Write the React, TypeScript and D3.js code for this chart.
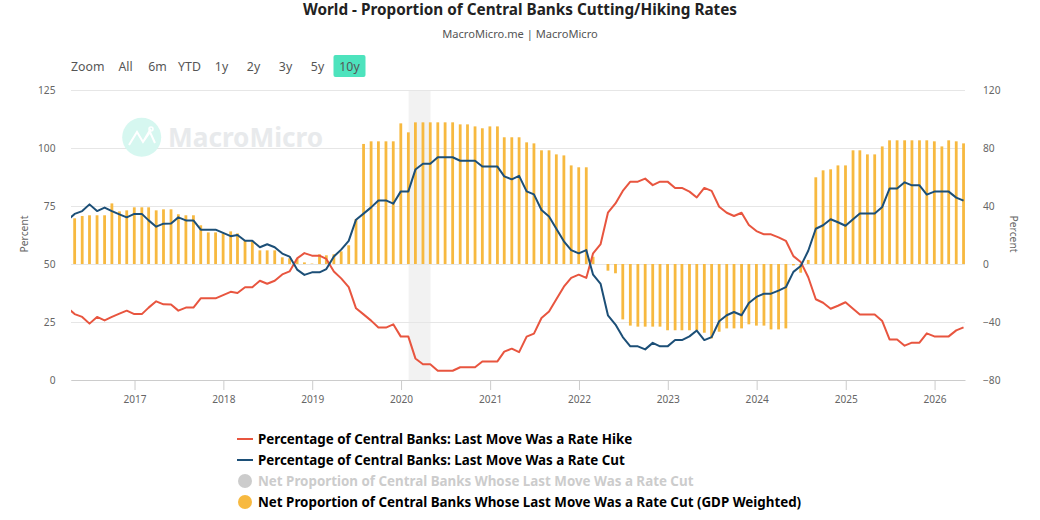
import * as d3 from "d3";
import { useEffect, useRef } from "react";

const FONT = "'Noto Sans', sans-serif";

// month ends, first one sits left of the plot and gets clipped
const firstMonthEnd = [2016, 2];

const hikeValues = [
  31.2, 28.4, 27.2, 24.3, 27.2, 25.7, 27.2, 28.6, 29.9, 28.4, 28.4, 31.2, 33.9, 32.6, 32.5, 29.9, 31.2, 31.2, 35.2, 35.2, 35.2, 36.6, 38, 37.5, 40, 40, 42.8, 41.5, 42.8, 45.5, 46.8, 52.4, 54.7, 53.6, 53.6, 52.2, 46.8, 43.8, 40, 30.9, 28.3, 25.6,
  22.6, 22.6, 24, 18.7, 18.7, 9.3, 6.8, 6.8, 4, 4, 4, 5.5, 5.5, 5.5, 8, 8, 8, 12.2, 13.5, 12, 18.7, 20, 26.7, 29.5, 34.8, 40.2, 44, 45.4, 44, 54.6, 58.6, 72.1, 76.1, 81.5, 85.5, 85.5, 86.8, 84, 85.5, 85.5, 82.8, 82.8,
  81.2, 78.7, 82.8, 81.5, 74.7, 72.1, 70.7, 72.1, 66.8, 64.2, 62.8, 62.8, 61.5, 60, 53.4, 50.9, 44.3, 34.8, 33.3, 30.7, 32, 33.5, 30.7, 28.2, 28.2, 28.2, 25.4, 17.5, 17.5, 14.8, 16.1, 16.1, 20.1, 18.8, 18.8, 18.8, 21.4, 22.7,
];

const cutValues = [
  68.8, 71.6, 72.8, 75.7, 72.8, 74.3, 72.8, 71.4, 70.1, 71.6, 71.6, 68.8, 66.1, 67.4, 67.5, 70.1, 68.8, 68.8, 64.8, 64.8, 64.8, 63.4, 62, 62.5, 60, 60, 57.2, 58.5, 57.2, 54.5, 53.2, 47.6, 45.3, 46.4, 46.4, 47.8, 53.2, 56.2, 60, 69.1, 71.7, 74.4,
  77.4, 77.4, 76, 81.3, 81.3, 90.7, 93.2, 93.2, 96, 96, 96, 94.5, 94.5, 94.5, 92, 92, 92, 87.8, 86.5, 88, 81.3, 80, 73.3, 70.5, 65.2, 59.8, 56, 54.6, 56, 45.4, 41.4, 27.9, 23.9, 18.5, 14.5, 14.5, 13.2, 16, 14.5, 14.5, 17.2, 17.2,
  18.8, 21.3, 17.2, 18.5, 25.3, 27.9, 29.3, 27.9, 33.2, 35.8, 37.2, 37.2, 38.5, 40, 46.6, 49.1, 55.7, 65.2, 66.7, 69.3, 68, 66.5, 69.3, 71.8, 71.8, 71.8, 74.6, 82.5, 82.5, 85.2, 83.9, 83.9, 79.9, 81.2, 81.2, 81.2, 78.6, 77.3,
];

const netValues = [
  30, 31.5, 33.1, 33.6, 33.6, 33.6, 41.8, 36.3, 37, 39.1, 39.1, 39.1, 37, 37.7, 37.7, 34.3, 33.6, 33.6, 26.7, 21.8, 21.8, 21.1, 22.5, 21.1, 16.3, 15.6, 9.4, 9.4, 9.4, 4.6, 3.9, 3.5, 1.1, 0.3, 6.7, 6, 6.7, 8.7, 12.9, 31, 82.8, 84.6,
  84.6, 84.6, 84.6, 97, 90.8, 97.7, 97.7, 97.7, 97.7, 97.7, 97.7, 96.3, 96.3, 94.9, 93.6, 94.9, 94.9, 87.4, 87.4, 87.4, 83.9, 83.2, 78.4, 78.4, 75.6, 74.9, 68, 66.7, 66.7, 5, 0, -4.6, -6.4, -38.2, -42.5, -43.2, -43.2, -43.2, -43.2, -45.7, -45.7, -45.7,
  -45.7, -45.7, -47.4, -51.3, -46.7, -44.4, -44.4, -44.4, -41.6, -42.5, -42.5, -45.1, -45.1, -44.4, -1, -6, 2.8, 59.8, 64.6, 65.3, 68, 68, 78.4, 78.4, 75.6, 75.6, 81.1, 85.3, 85.3, 85.3, 85.3, 85.3, 85.3, 84.6, 81.1, 85.3, 84.6, 83.2,
];

const yearTicks = [2017, 2018, 2019, 2020, 2021, 2022, 2023, 2024, 2025, 2026];
const leftTicks = [0, 25, 50, 75, 100, 125];
const rightTicks = [-80, -40, 0, 40, 80, 120];
const rangeButtons = ["All", "6m", "YTD", "1y", "2y", "3y", "5y", "10y"];
const recession = [new Date(Date.UTC(2020, 1, 1)), new Date(Date.UTC(2020, 4, 1))];

const legendItems = [
  { label: "Percentage of Central Banks: Last Move Was a Rate Hike", color: "#e8553f", kind: "line", hidden: false },
  { label: "Percentage of Central Banks: Last Move Was a Rate Cut", color: "#1c4f77", kind: "line", hidden: false },
  { label: "Net Proportion of Central Banks Whose Last Move Was a Rate Cut", color: "#cccccc", kind: "dot", hidden: true },
  { label: "Net Proportion of Central Banks Whose Last Move Was a Rate Cut (GDP Weighted)", color: "#f7b940", kind: "dot", hidden: false },
];

const margin = { top: 90, right: 75, bottom: 140, left: 71 };
const width = 1040;
const height = 520;

const App = () => {
  const svgRef = useRef<SVGSVGElement>(null);

  useEffect(() => {
    const svg = d3.select(svgRef.current);
    svg.selectAll("*").remove();
    svg.style("font-family", FONT);

    const dates = hikeValues.map((_, i) => new Date(Date.UTC(firstMonthEnd[0], firstMonthEnd[1] + i + 1, 0)));
    const x = d3.scaleUtc()
      .domain([new Date(Date.UTC(2016, 3, 15)), new Date(Date.UTC(2026, 4, 6))])
      .range([margin.left, width - margin.right]);
    const yLeft = d3.scaleLinear().domain([0, 125]).range([height - margin.bottom, margin.top]);
    const yRight = d3.scaleLinear().domain([-80, 120]).range([height - margin.bottom, margin.top]);

    svg.append("clipPath").attr("id", "plot")
      .append("rect")
      .attr("x", margin.left).attr("y", margin.top - 2)
      .attr("width", width - margin.left - margin.right)
      .attr("height", height - margin.top - margin.bottom + 4);

    // titles
    svg.append("text").attr("x", 520).attr("y", 15).attr("text-anchor", "middle")
      .attr("font-size", 15.3).attr("font-weight", 700).attr("fill", "#222")
      .text("World - Proportion of Central Banks Cutting/Hiking Rates");
    svg.append("text").attr("x", 520).attr("y", 38).attr("text-anchor", "middle")
      .attr("font-size", 11.1).attr("fill", "#555")
      .text("MacroMicro.me | MacroMicro");

    // range selector
    svg.append("text").attr("x", 71).attr("y", 71).attr("font-size", 12.3).attr("fill", "#555").text("Zoom");
    const btn = svg.append("g").selectAll("g").data(rangeButtons).join("g")
      .attr("transform", (_, i) => `translate(${125.5 + i * 32},0)`);
    btn.filter((d) => d === "10y").append("rect")
      .attr("x", -16).attr("y", 55).attr("width", 32).attr("height", 22).attr("rx", 2)
      .attr("fill", "#4de3bd");
    btn.append("text").attr("y", 71).attr("text-anchor", "middle")
      .attr("font-size", 12.3).attr("fill", "#555").text((d) => d);

    // recession band
    svg.append("rect")
      .attr("x", x(recession[0])).attr("y", margin.top)
      .attr("width", x(recession[1]) - x(recession[0]))
      .attr("height", height - margin.top - margin.bottom)
      .attr("fill", "#f2f2f2");

    // gridlines + left axis
    const leftAxis = svg.append("g")
      .attr("transform", `translate(${margin.left},0)`)
      .call(d3.axisLeft(yLeft).tickValues(leftTicks).tickSize(-(width - margin.left - margin.right)).tickPadding(15.5));
    leftAxis.select(".domain").remove();
    leftAxis.selectAll("line").attr("stroke", "#e6e6e6");
    leftAxis.selectAll("text").attr("font-size", 10.2).attr("font-family", FONT).attr("fill", "#666");

    const rightAxis = svg.append("g")
      .attr("transform", `translate(${width - margin.right},0)`)
      .call(d3.axisRight(yRight).tickValues(rightTicks).tickSize(0).tickPadding(18));
    rightAxis.select(".domain").remove();
    rightAxis.selectAll("text").attr("font-size", 10.2).attr("font-family", FONT).attr("fill", "#666");

    svg.append("text").attr("transform", "translate(27.5,234) rotate(-90)").attr("text-anchor", "middle")
      .attr("font-size", 10.3).attr("fill", "#666").text("Percent");
    svg.append("text").attr("transform", "translate(1010,234) rotate(90)").attr("text-anchor", "middle")
      .attr("font-size", 10.3).attr("fill", "#666").text("Percent");

    // watermark
    const mark = svg.append("g");
    mark.append("circle").attr("cx", 141.7).attr("cy", 137.3).attr("r", 19.5).attr("fill", "#d6f7f0");
    mark.append("path").attr("d", "M129,145 L137,132 L143,142 L150,132 L155,143 M143,142 L150,130 L151,129")
      .attr("fill", "none").attr("stroke", "#fff").attr("stroke-width", 2);
    mark.append("circle").attr("cx", 151).attr("cy", 129).attr("r", 2).attr("fill", "none").attr("stroke", "#fff").attr("stroke-width", 1.5);
    mark.append("text").attr("x", 168).attr("y", 147).attr("font-size", 26.2).attr("font-weight", 700)
      .attr("fill", "#e8eaec").text("MacroMicro");

    const plot = svg.append("g").attr("clip-path", "url(#plot)");

    // bars on right axis
    plot.append("g").selectAll("rect").data(netValues).join("rect")
      .attr("x", (_, i) => x(dates[i]) - 1.4)
      .attr("y", (d) => Math.min(yRight(d), yRight(0)))
      .attr("width", 2.8)
      .attr("height", (d) => Math.abs(yRight(d) - yRight(0)))
      .attr("fill", "#f7b940");

    const line = d3.line<number>()
      .x((_, i) => x(dates[i]))
      .y((d) => yLeft(d));

    plot.append("path").datum(hikeValues).attr("fill", "none")
      .attr("stroke", legendItems[0].color).attr("stroke-width", 2).attr("stroke-linejoin", "round").attr("d", line);
    plot.append("path").datum(cutValues).attr("fill", "none")
      .attr("stroke", legendItems[1].color).attr("stroke-width", 2).attr("stroke-linejoin", "round").attr("d", line);

    // x axis
    const xAxis = svg.append("g")
      .attr("transform", `translate(0,${height - margin.bottom})`)
      .call(d3.axisBottom(x)
        .tickValues(yearTicks.map((y) => new Date(Date.UTC(y, 0, 1))))
        .tickFormat((d) => String((d as Date).getUTCFullYear()))
        .tickSize(10).tickPadding(6).tickSizeOuter(0));
    xAxis.select(".domain").attr("stroke", "#ccc");
    xAxis.selectAll("line").attr("stroke", "#ccc");
    xAxis.selectAll("text").attr("font-size", 10.1).attr("font-family", FONT).attr("fill", "#666");

    // legend
    const rows = svg.append("g").selectAll("g").data(legendItems).join("g")
      .attr("transform", (_, i) => `translate(0,${439 + i * 21})`);
    rows.filter((d) => d.kind === "line").append("line")
      .attr("x1", 237).attr("x2", 253).attr("stroke", (d) => d.color).attr("stroke-width", 2);
    rows.filter((d) => d.kind === "dot").append("circle")
      .attr("cx", 245).attr("r", 7).attr("fill", (d) => d.color);
    rows.append("text").attr("x", 258).attr("y", 4.5)
      .attr("font-size", 13.37).attr("font-weight", 700)
      .attr("fill", (d) => (d.hidden ? "#cccccc" : "#000"))
      .text((d) => d.label);
  }, []);

  return (
    <svg
      ref={svgRef}
      width={width}
      height={height}
      style={{ position: "absolute", left: 0, top: 0, background: "#fff" }}
    />
  );
};

export default App;
